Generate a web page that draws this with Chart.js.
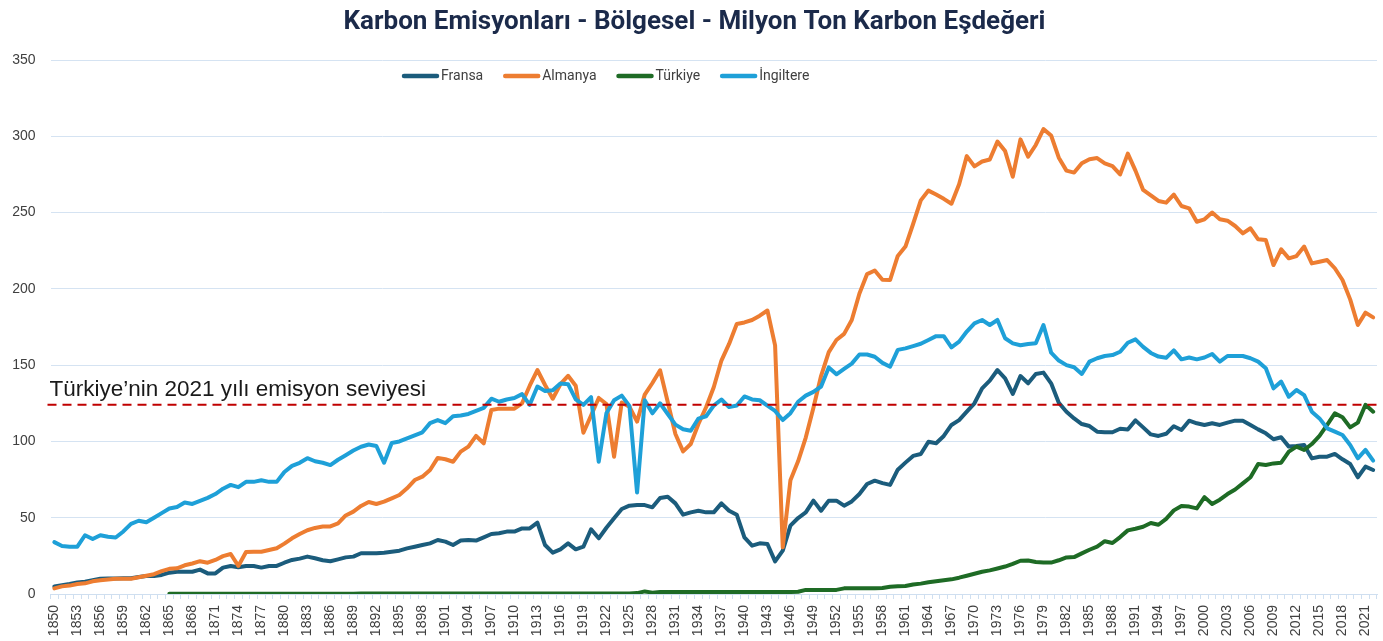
<!DOCTYPE html>
<html>
<head>
<meta charset="utf-8">
<script src="https://cdn.jsdelivr.net/npm/chart.js@4.4.1/dist/chart.umd.min.js"></script>
<style>
html,body{margin:0;padding:0;background:#ffffff;}
#wrap{width:1383px;height:641px;position:relative;}
</style>
</head>
<body>
<div id="wrap"><canvas id="c" width="1383" height="641"></canvas></div>
<script>
const titleText = 'Karbon Emisyonları - Bölgesel - Milyon Ton Karbon Eşdeğeri';
const annotationText = 'Türkiye’nin 2021 yılı emisyon seviyesi';

const years = [
'1850','1851','1852','1853','1854','1855','1856','1857','1858','1859',
'1860','1861','1862','1863','1864','1865','1866','1867','1868','1869',
'1870','1871','1872','1873','1874','1875','1876','1877','1878','1879',
'1880','1881','1882','1883','1884','1885','1886','1887','1888','1889',
'1890','1891','1892','1893','1894','1895','1896','1897','1898','1899',
'1900','1901','1902','1903','1904','1905','1906','1907','1908','1909',
'1910','1911','1912','1913','1914','1915','1916','1917','1918','1919',
'1920','1921','1922','1923','1924','1925','1926','1927','1928','1929',
'1930','1931','1932','1933','1934','1935','1936','1937','1938','1939',
'1940','1941','1942','1943','1944','1945','1946','1947','1948','1949',
'1950','1951','1952','1953','1954','1955','1956','1957','1958','1959',
'1960','1961','1962','1963','1964','1965','1966','1967','1968','1969',
'1970','1971','1972','1973','1974','1975','1976','1977','1978','1979',
'1980','1981','1982','1983','1984','1985','1986','1987','1988','1989',
'1990','1991','1992','1993','1994','1995','1996','1997','1998','1999',
'2000','2001','2002','2003','2004','2005','2006','2007','2008','2009',
'2010','2011','2012','2013','2014','2015','2016','2017','2018','2019',
'2020','2021','2022'];

const xTickLabels = ['1850','1853','1856','1859','1862','1865','1868','1871','1874','1877',
'1880','1883','1886','1889','1892','1895','1898','1901','1904','1907','1910','1913','1916',
'1919','1922','1925','1928','1931','1934','1937','1940','1943','1946','1949','1952','1955',
'1958','1961','1964','1967','1970','1973','1976','1979','1982','1985','1988','1991','1994',
'1997','2000','2003','2006','2009','2012','2015','2018','2021'];

const yTicks = [0, 50, 100, 150, 200, 250, 300, 350];

const fransa = [
5,5.7,6.5,7.5,8,9,10,10.2,10.2,10.3,
10.3,11.2,11.8,11.8,12.5,14,14.6,14.6,14.6,16,
13.5,13.5,17.3,18.4,17.5,18.4,18.4,17.3,18.4,18.4,
20.5,22.3,23.2,24.5,23.4,22.1,21.5,22.7,24,24.5,
26.7,26.7,26.7,27.1,27.7,28.4,29.9,31,32.1,33.2,
35.4,34.3,32.1,35,35.4,35,37.1,39.3,39.8,40.9,
40.9,43,43,46.8,32.1,27.1,29.3,33.2,29.3,31,
42.4,36.5,43.4,49.6,55.7,57.9,58.3,58.3,56.8,62.9,
63.8,59.4,52,53.5,54.6,53.5,53.5,59.4,54.6,52,
37.1,31.7,33.2,32.8,21.4,28.4,44.8,49.8,53.5,61.2,
54.6,61.2,61.2,57.9,60.7,65.5,72.1,74.3,72.7,71.5,
81.5,86.1,90.5,91.8,99.8,98.8,103.6,110.8,114,119.5,
125,134.8,139.8,146.8,141.4,131.1,142.9,138.1,144.2,145.1,
138.1,125.4,119.5,115.1,111.4,110.1,106.4,106,106,108.3,
107.8,113.8,109.2,104.6,103.6,105,110,107.5,113.6,111.9,
110.8,111.9,110.8,112.3,113.6,113.6,110.8,107.9,105.3,101.4,
102.7,96.6,97,97.7,88.9,90,90,91.8,88.3,85.2,
76.5,83.5,81.3];

const almanya = [
3.7,5,5.5,6.5,7,8.3,9,9.5,10,10,
10,11,12,13,15,16.5,16.8,18.8,20,21.5,
20.5,22.3,24.8,26.2,18.4,27.5,27.7,27.7,28.8,30,
33,36.5,39.3,41.8,43.3,44.2,44.3,46.3,51.5,54,
57.7,60.3,59,60.5,62.7,64.9,69.3,74.7,76.9,81.3,
89.2,88.3,86.7,93.3,96.6,103.6,98.8,120.6,121.5,121.5,
121.5,125,136.5,146.8,137,128,137.5,143,136.5,105.7,
117,128.5,124.5,90,125.5,122.8,113,130.7,138.3,146.6,
125.8,104.9,93.5,98.3,111.4,122.4,135.5,153,163.9,177,
178,179.6,182.4,185.8,163,30.6,74.5,87,102.5,122,
143,158.5,166.5,170.5,179.6,197,209.7,212,206,205.8,
221.6,227.7,242.5,258,264.4,261.8,259,255.8,268.5,287,
280.3,283.5,284.8,296.5,290.3,273.5,298,286.7,294.3,304.7,
300.5,286,277.5,276.2,282.3,285,285.7,282.3,280.5,275,
288.6,277.5,264.8,261.2,257.6,256.5,261.8,254.3,252.8,244,
245.6,250,245.6,244.7,241.2,236.4,239.7,232.5,232,215.6,
225.9,220,221.5,227.7,216.7,217.8,218.9,213.5,205.8,193.1,
176.3,184.4,181.3];

const turkiye = [
null,null,null,null,null,null,null,null,null,null,
null,null,null,null,null,0.2,0.2,0.2,0.2,0.2,
0.2,0.2,0.2,0.2,0.2,0.2,0.2,0.2,0.2,0.2,
0.2,0.2,0.2,0.2,0.2,0.2,0.2,0.2,0.2,0.2,
0.3,0.3,0.3,0.3,0.3,0.3,0.3,0.3,0.3,0.3,
0.3,0.3,0.3,0.3,0.3,0.3,0.3,0.3,0.3,0.3,
0.4,0.4,0.4,0.4,0.4,0.4,0.4,0.4,0.4,0.4,
0.4,0.4,0.4,0.4,0.4,0.4,0.6,1.7,0.9,1.3,
1.3,1.3,1.3,1.3,1.3,1.3,1.3,1.3,1.3,1.3,
1.3,1.3,1.3,1.3,1.3,1.3,1.3,1.5,2.7,2.7,
2.7,2.7,2.7,3.7,3.7,3.7,3.7,3.7,3.9,4.8,
5,5.2,6.2,6.8,7.7,8.4,9,9.6,10.7,12,
13.3,14.6,15.5,16.7,18,19.7,21.8,22,21,20.6,
20.6,22.1,24,24.2,26.6,29,31,34.6,33.4,37.3,
41.7,42.8,44.1,46.5,45.4,49.2,54.8,57.7,57.3,56.1,
63.5,59,61.8,65.5,68.5,72.5,76.5,85.2,84.6,85.6,
86.1,93.3,96.6,94.4,98.3,103.6,110.8,118.4,115.8,109.2,
112.3,124,119.5];

const ingiltere = [
34,31.5,31,31,38.5,36,38.5,37.5,37,41,
46,48,47,50,53,56,57,60,59,61,
63,65.5,69,71.5,70,73.5,73.5,74.5,73.5,73.5,
80,84,86,89,87,86,84.5,88,91,94,
96.5,98,97,86,99,100,102,104,106,112,
114,112,116.5,117,118,120,122,128,126,127.5,
128.5,131,124,136,133,133.5,138,137.5,127.5,124,
129,86.7,118.5,127,130,123.3,66.5,127,118.4,125,
118,111,108,107,115,116.5,123.5,127.5,122.5,123.5,
129.5,127.5,127,123.5,120,114,118.5,126,130,132.5,
136,148.5,144,147.5,151,157,157,155.5,151.5,149,
160,161,162.5,164,166.5,169,169,161.7,165.4,172,
177.4,179.6,176.3,179.6,167.6,164.3,163,163.9,164.3,176.3,
158.2,153,150,148.6,144.2,152.3,154.5,156,156.6,158.8,
164.7,166.9,162,158,155.6,154.8,159.7,153.8,155,153.8,
155,157.3,152.3,156,156,156,154.5,152.3,148,134.8,
139.2,129.3,133.7,130.4,119.5,115.1,108.6,106.4,104.2,97.7,
88.9,94.4,87.4];

const seriesLabels = ['Fransa', 'Almanya', 'Türkiye', 'İngiltere'];
const seriesColors = ['#1b5c7c', '#ed7d31', '#1e6b25', '#1ea0d8'];

const referenceLevel = turkiye[years.indexOf('2021')];

const refLinePlugin = {
  id: 'refLine',
  afterDatasetsDraw(chart) {
    const {ctx, chartArea, scales} = chart;
    const yp = scales.y.getPixelForValue(referenceLevel);
    ctx.save();
    ctx.strokeStyle = '#c00000';
    ctx.lineWidth = 2;
    ctx.setLineDash([9, 6]);
    ctx.beginPath();
    ctx.moveTo(chartArea.left - 3, yp);
    ctx.lineTo(chartArea.right, yp);
    ctx.stroke();
    ctx.setLineDash([]);
    ctx.font = '22.5px "Liberation Sans", Arial, sans-serif';
    ctx.fillStyle = '#1a1a1a';
    ctx.textAlign = 'left';
    ctx.textBaseline = 'alphabetic';
    ctx.fillText(annotationText, chartArea.left - 1, yp - 9);
    ctx.restore();
  }
};

const legendPlugin = {
  id: 'customLegend',
  afterDraw(chart) {
    const {ctx} = chart;
    ctx.save();
    ctx.font = '14px Roboto, sans-serif';
    let x = 402;
    const y = 76;
    chart.data.datasets.forEach(ds => {
      ctx.strokeStyle = ds.borderColor;
      ctx.lineWidth = 4.5;
      ctx.lineCap = 'round';
      ctx.beginPath();
      ctx.moveTo(x + 2, y);
      ctx.lineTo(x + 35, y);
      ctx.stroke();
      ctx.fillStyle = '#404040';
      ctx.textAlign = 'left';
      ctx.textBaseline = 'middle';
      ctx.fillText(ds.label, x + 39, y);
      x += 39 + ctx.measureText(ds.label).width + 20;
    });
    ctx.restore();
  }
};

const seriesData = [fransa, almanya, turkiye, ingiltere];

new Chart(document.getElementById('c').getContext('2d'), {
  type: 'line',
  data: {
    labels: years,
    datasets: seriesData.map((d, i) => ({
      label: seriesLabels[i],
      data: d,
      borderColor: seriesColors[i],
      backgroundColor: seriesColors[i],
      borderWidth: 4,
      pointRadius: 0,
      tension: 0,
      fill: false,
      order: 3 - i,
      borderJoinStyle: 'round',
      borderCapStyle: 'round'
    }))
  },
  options: {
    responsive: false,
    animation: false,
    devicePixelRatio: 1,
    layout: {padding: {left: 12, right: 6, top: 2, bottom: 3}},
    plugins: {
      legend: {display: false},
      tooltip: {enabled: false},
      title: {
        display: true,
        text: titleText,
        color: '#1b2a4a',
        font: {family: 'Roboto', size: 26, weight: 'bold'},
        padding: {top: 4.4, bottom: 22.4}
      }
    },
    scales: {
      x: {
        type: 'category',
        offset: true,
        grid: {display: true, drawOnChartArea: false, drawTicks: true, tickLength: 5, color: '#cfdff0', offset: true},
        border: {display: true, color: '#cfdff0'},
        ticks: {
          autoSkip: false, maxRotation: 90, minRotation: 90, padding: 6,
          color: '#404040', font: {family: 'Liberation Sans', size: 14},
          callback: function(v, i) { const l = years[i]; return xTickLabels.includes(l) ? l : ''; }
        },
        afterFit(scale) { scale.height = 44; scale.paddingLeft = 0; scale.paddingRight = 0; }
      },
      y: {
        min: yTicks[0],
        max: yTicks[yTicks.length - 1],
        ticks: {stepSize: yTicks[1] - yTicks[0], padding: 15, color: '#404040', font: {family: 'Liberation Sans', size: 14}},
        grid: {color: '#d5e3f2', drawTicks: false},
        border: {display: false},
        afterFit(scale) { scale.width = 38.5; }
      }
    }
  },
  plugins: [refLinePlugin, legendPlugin]
});
</script>
</body>
</html>
